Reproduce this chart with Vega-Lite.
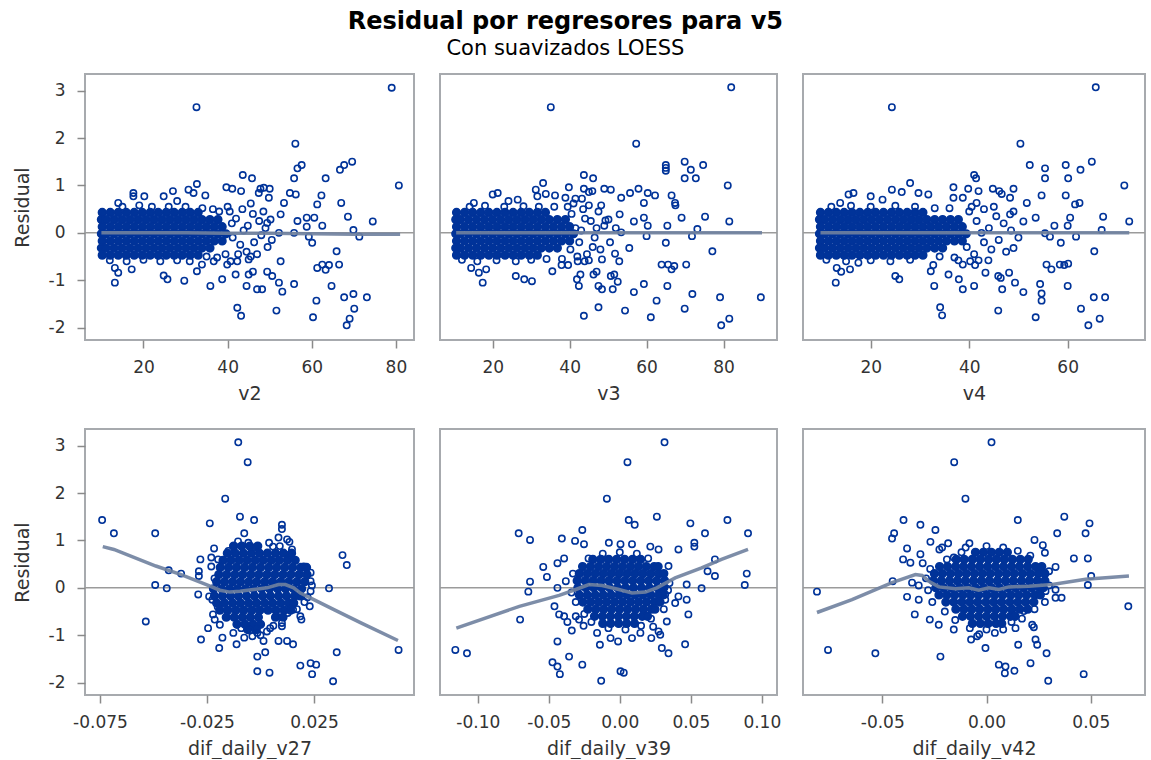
{
"$schema":"https://vega.github.io/schema/vega-lite/v6.json",
"autosize":{"type":"pad"},
"padding":{"left":12,"top":10,"right":0,"bottom":0},
"title":{"text":"Residual por regresores para v5","subtitle":"Con suavizados LOESS","font":"DejaVu Sans","fontSize":24,"fontWeight":"bold","color":"#000","subtitleFont":"DejaVu Sans","subtitleFontSize":21,"subtitleColor":"#000","subtitlePadding":4,"anchor":"middle","offset":14,"dx":-14},
"config":{
"font":"DejaVu Sans",
"view":{"stroke":"#a7aaae","strokeWidth":2},
"axis":{"domain":false,"grid":false,"ticks":true,"tickSize":8,"tickColor":"#8a8a8a","tickWidth":1.5,"labelFont":"DejaVu Sans","labelFontSize":17,"labelColor":"#333","titleFont":"DejaVu Sans","titleFontSize":19,"titleFontWeight":"normal","titleColor":"#333","labelFlush":false,"labelOverlap":false},
"axisX":{"labelPadding":11,"titlePadding":9},
"axisY":{"labelPadding":12,"titlePadding":16},
"locale":{"number":{"decimal":".","thousands":",","grouping":[3],"currency":["$",""],"minus":"-"}}
},
"datasets":{
"l1":[{"x":10,"y":0},{"x":20,"y":0},{"x":30,"y":0},{"x":40,"y":-0.01},{"x":50,"y":-0.01},{"x":60,"y":-0.02},{"x":70,"y":-0.03},{"x":81,"y":-0.03}],
"l2":[{"x":10.5,"y":0},{"x":30,"y":0},{"x":60,"y":0},{"x":90,"y":0}],
"l3":[{"x":9.8,"y":0},{"x":40,"y":0},{"x":72.5,"y":0}],
"l4":[{"x":-0.0737,"y":0.87},{"x":-0.0685,"y":0.81},{"x":-0.0489,"y":0.46},{"x":-0.0371,"y":0.28},{"x":-0.0253,"y":0.07},{"x":-0.019,"y":-0.05},{"x":-0.0143,"y":-0.09},{"x":-0.0096,"y":-0.07},{"x":-0.0033,"y":-0.035},{"x":0.003,"y":0},{"x":0.0084,"y":0.07},{"x":0.0116,"y":0.07},{"x":0.0155,"y":0},{"x":0.0186,"y":-0.11},{"x":0.0249,"y":-0.25},{"x":0.0343,"y":-0.46},{"x":0.0469,"y":-0.74},{"x":0.0642,"y":-1.11}],
"l5":[{"x":-0.1151,"y":-0.85},{"x":-0.0707,"y":-0.39},{"x":-0.0427,"y":-0.16},{"x":-0.031,"y":-0.035},{"x":-0.0217,"y":0.07},{"x":-0.0124,"y":0.05},{"x":-0.0007,"y":-0.035},{"x":0.0086,"y":-0.11},{"x":0.018,"y":-0.09},{"x":0.0261,"y":0},{"x":0.039,"y":0.21},{"x":0.0576,"y":0.42},{"x":0.0716,"y":0.6},{"x":0.0903,"y":0.81}],
"l6":[{"x":-0.0813,"y":-0.52},{"x":-0.0645,"y":-0.25},{"x":-0.0453,"y":0.11},{"x":-0.0341,"y":0.28},{"x":-0.0309,"y":0.26},{"x":-0.0277,"y":0.14},{"x":-0.0229,"y":0.02},{"x":-0.0149,"y":-0.02},{"x":-0.0085,"y":0},{"x":-0.0037,"y":-0.05},{"x":0.0011,"y":0},{"x":0.0059,"y":-0.035},{"x":0.0107,"y":0.02},{"x":0.0203,"y":0.035},{"x":0.0315,"y":0.07},{"x":0.0475,"y":0.18},{"x":0.0555,"y":0.21},{"x":0.0683,"y":0.25}],
"p1c":[
{"x":10.2,"y":0.43},{"x":12.1,"y":0.43},{"x":14.0,"y":0.43},{"x":15.9,"y":0.43},{"x":17.8,"y":0.43},{"x":19.7,"y":0.43},{"x":21.6,"y":0.43},{"x":23.5,"y":0.43},{"x":25.4,"y":0.43},{"x":27.3,"y":0.43},{"x":29.2,"y":0.43},{"x":31.1,"y":0.43},{"x":33.0,"y":0.43},
{"x":10.0,"y":0.28},{"x":11.1,"y":0.28},{"x":13.0,"y":0.28},{"x":14.9,"y":0.28},{"x":16.8,"y":0.28},{"x":18.7,"y":0.28},{"x":20.6,"y":0.28},{"x":22.5,"y":0.28},{"x":24.4,"y":0.28},{"x":26.3,"y":0.28},{"x":28.2,"y":0.28},{"x":30.1,"y":0.28},{"x":32.0,"y":0.28},{"x":33.9,"y":0.28},{"x":35.8,"y":0.28},{"x":37.7,"y":0.28},
{"x":10.2,"y":0.13},{"x":12.1,"y":0.13},{"x":14.0,"y":0.13},{"x":15.9,"y":0.13},{"x":17.8,"y":0.13},{"x":19.7,"y":0.13},{"x":21.6,"y":0.13},{"x":23.5,"y":0.13},{"x":25.4,"y":0.13},{"x":27.3,"y":0.13},{"x":29.2,"y":0.13},{"x":31.1,"y":0.13},{"x":33.0,"y":0.13},{"x":34.9,"y":0.13},{"x":36.8,"y":0.13},{"x":38.7,"y":0.13},
{"x":10.0,"y":-0.02},{"x":11.1,"y":-0.02},{"x":13.0,"y":-0.02},{"x":14.9,"y":-0.02},{"x":16.8,"y":-0.02},{"x":18.7,"y":-0.02},{"x":20.6,"y":-0.02},{"x":22.5,"y":-0.02},{"x":24.4,"y":-0.02},{"x":26.3,"y":-0.02},{"x":28.2,"y":-0.02},{"x":30.1,"y":-0.02},{"x":32.0,"y":-0.02},{"x":33.9,"y":-0.02},{"x":35.8,"y":-0.02},{"x":37.7,"y":-0.02},{"x":39.6,"y":-0.02},
{"x":10.2,"y":-0.17},{"x":12.1,"y":-0.17},{"x":14.0,"y":-0.17},{"x":15.9,"y":-0.17},{"x":17.8,"y":-0.17},{"x":19.7,"y":-0.17},{"x":21.6,"y":-0.17},{"x":23.5,"y":-0.17},{"x":25.4,"y":-0.17},{"x":27.3,"y":-0.17},{"x":29.2,"y":-0.17},{"x":31.1,"y":-0.17},{"x":33.0,"y":-0.17},{"x":34.9,"y":-0.17},{"x":36.8,"y":-0.17},{"x":38.7,"y":-0.17},
{"x":10.0,"y":-0.32},{"x":11.1,"y":-0.32},{"x":13.0,"y":-0.32},{"x":14.9,"y":-0.32},{"x":16.8,"y":-0.32},{"x":18.7,"y":-0.32},{"x":20.6,"y":-0.32},{"x":22.5,"y":-0.32},{"x":24.4,"y":-0.32},{"x":26.3,"y":-0.32},{"x":28.2,"y":-0.32},{"x":30.1,"y":-0.32},{"x":32.0,"y":-0.32},{"x":33.9,"y":-0.32},{"x":35.8,"y":-0.32},
{"x":10.2,"y":-0.47},{"x":12.1,"y":-0.47},{"x":14.0,"y":-0.47},{"x":15.9,"y":-0.47},{"x":17.8,"y":-0.47},{"x":19.7,"y":-0.47},{"x":21.6,"y":-0.47},{"x":23.5,"y":-0.47},{"x":25.4,"y":-0.47},{"x":27.3,"y":-0.47},{"x":29.2,"y":-0.47},{"x":31.1,"y":-0.47},{"x":33.0,"y":-0.47}],
"p1":[
{"x":79,"y":3.06},{"x":32.6,"y":2.65},{"x":56.1,"y":1.88},{"x":69.6,"y":1.5},{"x":67.7,"y":1.43},{"x":66.7,"y":1.33},{"x":57.6,"y":1.43},{"x":56.6,"y":1.36},{"x":55.8,"y":1.15},{"x":63.3,"y":1.15},{"x":80.7,"y":1.0},{"x":43.6,"y":1.22},{"x":45.8,"y":1.15},{"x":39.7,"y":0.96},{"x":41.1,"y":0.93},{"x":43.2,"y":0.88},{"x":32.7,"y":1.03},{"x":30.7,"y":0.91},{"x":27.0,"y":0.88},{"x":31.9,"y":0.84},{"x":34.7,"y":0.79},{"x":47.8,"y":0.93},{"x":48.6,"y":0.95},{"x":50.0,"y":0.93},{"x":47.4,"y":0.84},{"x":49.8,"y":0.74},{"x":53.4,"y":0.63},{"x":54.8,"y":0.84},{"x":56.2,"y":0.81},{"x":62.3,"y":0.79},{"x":61.3,"y":0.6},{"x":67.0,"y":0.63},{"x":68.6,"y":0.34},{"x":74.5,"y":0.24},{"x":58.8,"y":0.32},{"x":60.6,"y":0.32},{"x":56.6,"y":0.25},{"x":62.5,"y":0.15},{"x":58.8,"y":0.13},{"x":52.6,"y":0.39},{"x":50.2,"y":0.28},{"x":49.4,"y":0.21},{"x":69.9,"y":0.06},{"x":71.3,"y":-0.08},{"x":55.8,"y":0.0},{"x":52.2,"y":0.0},{"x":59.3,"y":-0.08},{"x":60.1,"y":-0.21},{"x":65.9,"y":-0.39},{"x":52.6,"y":-0.6},{"x":61.3,"y":-0.74},{"x":63.3,"y":-0.78},{"x":64.1,"y":-0.68},{"x":66.5,"y":-0.67},{"x":64.7,"y":-1.12},{"x":62.5,"y":-0.67},{"x":55.8,"y":-1.08},{"x":53.0,"y":-1.24},{"x":52.2,"y":-1.05},{"x":50.6,"y":-0.91},{"x":49.4,"y":-0.82},{"x":47.0,"y":-1.19},{"x":48.2,"y":-1.19},{"x":44.5,"y":-1.12},{"x":45.0,"y":-0.88},{"x":46.0,"y":-0.82},{"x":51.6,"y":-1.64},{"x":42.3,"y":-1.58},{"x":43.2,"y":-1.75},{"x":61.1,"y":-1.43},{"x":60.3,"y":-1.78},{"x":67.7,"y":-1.36},{"x":69.9,"y":-1.29},{"x":73.1,"y":-1.36},{"x":70.1,"y":-1.6},{"x":69.0,"y":-1.81},{"x":68.3,"y":-1.95},{"x":38.7,"y":-0.98},{"x":35.9,"y":-1.12},{"x":29.7,"y":-1.01},{"x":24.8,"y":-0.9},{"x":25.7,"y":-0.98},{"x":13.2,"y":-1.05},{"x":14.0,"y":-0.84},{"x":13.2,"y":-0.74},{"x":17.2,"y":-0.77},{"x":32.7,"y":-0.81},{"x":33.9,"y":-0.67},{"x":36.7,"y":-0.6},{"x":39.9,"y":-0.67},{"x":41.9,"y":-0.88},{"x":40.7,"y":-0.6},{"x":42.3,"y":-0.6},{"x":45.0,"y":-0.56},{"x":17.6,"y":0.84},{"x":17.6,"y":0.77},{"x":20.2,"y":0.77},{"x":24.8,"y":0.77},{"x":14.0,"y":0.63},{"x":28.0,"y":0.67},
{"x":40.5,"y":0.45},{"x":42,"y":0.3},{"x":43.5,"y":0.5},{"x":44.8,"y":0.15},{"x":46,"y":0.4},{"x":47.5,"y":0.25},{"x":41.2,"y":-0.1},{"x":43,"y":-0.25},{"x":44.5,"y":-0.4},{"x":46.3,"y":-0.2},{"x":48,"y":-0.05},{"x":49.5,"y":-0.3},{"x":41,"y":0.2},{"x":42.5,"y":-0.45},{"x":45.5,"y":-0.5},{"x":39.5,"y":-0.45},{"x":38,"y":0.45},{"x":40,"y":0.55},{"x":47,"y":-0.45},{"x":49,"y":0.1},{"x":43.8,"y":0.05},{"x":48.5,"y":0.45},{"x":36.5,"y":0.5},{"x":35,"y":-0.5},{"x":37.5,"y":-0.52},{"x":34,"y":0.52},{"x":15,"y":0.55},{"x":19,"y":0.58},{"x":22,"y":0.55},{"x":26,"y":0.55},{"x":30,"y":0.55},{"x":12,"y":-0.58},{"x":16,"y":-0.6},{"x":20,"y":-0.57},{"x":24,"y":-0.6},{"x":28,"y":-0.58},{"x":31,"y":-0.6},{"x":45.5,"y":0.62},{"x":50.5,"y":-0.15}],
"p2c":[
{"x":10.6,"y":0.43},{"x":12.7,"y":0.43},{"x":14.8,"y":0.43},{"x":16.9,"y":0.43},{"x":19.0,"y":0.43},{"x":21.1,"y":0.43},{"x":23.2,"y":0.43},{"x":25.3,"y":0.43},{"x":27.4,"y":0.43},{"x":29.5,"y":0.43},{"x":31.6,"y":0.43},{"x":33.7,"y":0.43},
{"x":10.4,"y":0.28},{"x":11.6,"y":0.28},{"x":13.7,"y":0.28},{"x":15.8,"y":0.28},{"x":17.9,"y":0.28},{"x":20.0,"y":0.28},{"x":22.1,"y":0.28},{"x":24.2,"y":0.28},{"x":26.3,"y":0.28},{"x":28.4,"y":0.28},{"x":30.5,"y":0.28},{"x":32.6,"y":0.28},{"x":34.7,"y":0.28},{"x":36.8,"y":0.28},{"x":38.9,"y":0.28},
{"x":10.6,"y":0.13},{"x":12.7,"y":0.13},{"x":14.8,"y":0.13},{"x":16.9,"y":0.13},{"x":19.0,"y":0.13},{"x":21.1,"y":0.13},{"x":23.2,"y":0.13},{"x":25.3,"y":0.13},{"x":27.4,"y":0.13},{"x":29.5,"y":0.13},{"x":31.6,"y":0.13},{"x":33.7,"y":0.13},{"x":35.8,"y":0.13},{"x":37.9,"y":0.13},{"x":40.0,"y":0.13},
{"x":10.4,"y":-0.02},{"x":11.6,"y":-0.02},{"x":13.7,"y":-0.02},{"x":15.8,"y":-0.02},{"x":17.9,"y":-0.02},{"x":20.0,"y":-0.02},{"x":22.1,"y":-0.02},{"x":24.2,"y":-0.02},{"x":26.3,"y":-0.02},{"x":28.4,"y":-0.02},{"x":30.5,"y":-0.02},{"x":32.6,"y":-0.02},{"x":34.7,"y":-0.02},{"x":36.8,"y":-0.02},{"x":38.9,"y":-0.02},{"x":41.0,"y":-0.02},
{"x":10.6,"y":-0.17},{"x":12.7,"y":-0.17},{"x":14.8,"y":-0.17},{"x":16.9,"y":-0.17},{"x":19.0,"y":-0.17},{"x":21.1,"y":-0.17},{"x":23.2,"y":-0.17},{"x":25.3,"y":-0.17},{"x":27.4,"y":-0.17},{"x":29.5,"y":-0.17},{"x":31.6,"y":-0.17},{"x":33.7,"y":-0.17},{"x":35.8,"y":-0.17},{"x":37.9,"y":-0.17},{"x":40.0,"y":-0.17},
{"x":10.4,"y":-0.32},{"x":11.6,"y":-0.32},{"x":13.7,"y":-0.32},{"x":15.8,"y":-0.32},{"x":17.9,"y":-0.32},{"x":20.0,"y":-0.32},{"x":22.1,"y":-0.32},{"x":24.2,"y":-0.32},{"x":26.3,"y":-0.32},{"x":28.4,"y":-0.32},{"x":30.5,"y":-0.32},{"x":32.6,"y":-0.32},{"x":34.7,"y":-0.32},{"x":36.8,"y":-0.32},
{"x":10.6,"y":-0.47},{"x":12.7,"y":-0.47},{"x":14.8,"y":-0.47},{"x":16.9,"y":-0.47},{"x":19.0,"y":-0.47},{"x":21.1,"y":-0.47},{"x":23.2,"y":-0.47},{"x":25.3,"y":-0.47},{"x":27.4,"y":-0.47},{"x":29.5,"y":-0.47},{"x":31.6,"y":-0.47}],
"p2":[
{"x":82.0,"y":3.07},{"x":35.1,"y":2.65},{"x":57.3,"y":1.88},{"x":65.0,"y":1.43},{"x":65.0,"y":1.37},{"x":65.0,"y":1.31},{"x":69.9,"y":1.5},{"x":71.5,"y":1.33},{"x":74.7,"y":1.43},{"x":69.9,"y":1.15},{"x":72.8,"y":1.15},{"x":81.1,"y":1.0},{"x":43.7,"y":1.22},{"x":46.1,"y":1.15},{"x":33.1,"y":1.05},{"x":39.8,"y":0.96},{"x":43.7,"y":0.93},{"x":45.9,"y":0.88},{"x":49.0,"y":0.93},{"x":50.7,"y":0.91},{"x":55.7,"y":0.84},{"x":57.9,"y":0.93},{"x":60.3,"y":0.84},{"x":62.2,"y":0.79},{"x":66.5,"y":0.79},{"x":67.4,"y":0.63},{"x":67.5,"y":0.58},{"x":59.3,"y":0.63},{"x":53.4,"y":0.74},{"x":69.1,"y":0.32},{"x":75.2,"y":0.34},{"x":81.5,"y":0.24},{"x":56.7,"y":0.24},{"x":59.3,"y":0.32},{"x":53.0,"y":0.39},{"x":50.1,"y":0.28},{"x":60.3,"y":0.15},{"x":65.4,"y":0.15},{"x":73.2,"y":0.08},{"x":71.8,"y":-0.07},{"x":60.0,"y":-0.07},{"x":53.4,"y":0.01},{"x":65.0,"y":-0.21},{"x":55.5,"y":-0.32},{"x":77.1,"y":-0.39},{"x":51.8,"y":-0.44},{"x":52.9,"y":-0.6},{"x":48.4,"y":-0.56},{"x":63.9,"y":-0.67},{"x":65.6,"y":-0.67},{"x":67.2,"y":-0.7},{"x":66.5,"y":-0.77},{"x":70.3,"y":-0.67},{"x":65.4,"y":-1.12},{"x":59.3,"y":-1.08},{"x":56.7,"y":-1.25},{"x":62.6,"y":-1.43},{"x":71.9,"y":-1.29},{"x":79.1,"y":-1.36},{"x":89.7,"y":-1.36},{"x":69.9,"y":-1.6},{"x":54.4,"y":-1.64},{"x":61.1,"y":-1.78},{"x":47.5,"y":-1.57},{"x":43.7,"y":-1.75},{"x":81.5,"y":-1.81},{"x":79.4,"y":-1.95},{"x":42.4,"y":-1.12},{"x":47.5,"y":-1.12},{"x":48.4,"y":-1.19},{"x":51.2,"y":-1.19},{"x":50.7,"y":-0.91},{"x":51.6,"y":-0.88},{"x":52.5,"y":-1.03},{"x":46.2,"y":-0.88},{"x":47.0,"y":-0.82},{"x":41.9,"y":-0.98},{"x":42.8,"y":-0.88},{"x":43.9,"y":-0.6},{"x":45.0,"y":-0.58},{"x":42.1,"y":-0.6},{"x":39.6,"y":-0.68},{"x":37.9,"y":-0.68},{"x":35.5,"y":-0.81},{"x":26.0,"y":-0.91},{"x":28.2,"y":-0.98},{"x":30.2,"y":-1.02},{"x":17.4,"y":-1.05},{"x":16.4,"y":-0.84},{"x":18.3,"y":-0.77},{"x":14.4,"y":-0.74},{"x":20.0,"y":0.81},{"x":21.3,"y":0.84},{"x":24.1,"y":0.67},{"x":26.5,"y":0.7},{"x":15.1,"y":0.63},{"x":31.2,"y":0.91},{"x":31.6,"y":0.77},{"x":33.8,"y":0.82},{"x":36.2,"y":0.79},{"x":38.9,"y":0.74},{"x":41.5,"y":0.72},{"x":43.2,"y":0.72},{"x":48.2,"y":0.58},{"x":49.3,"y":0.26},{"x":45.0,"y":0.86},
{"x":40.5,"y":0.4},{"x":41.5,"y":0.1},{"x":42.5,"y":-0.2},{"x":43.5,"y":0.5},{"x":44.5,"y":-0.45},{"x":45.5,"y":0.25},{"x":46.5,"y":-0.1},{"x":47.5,"y":0.45},{"x":48,"y":-0.35},{"x":49,"y":0.15},{"x":42,"y":-0.5},{"x":44,"y":0.3},{"x":46,"y":-0.3},{"x":40.2,"y":-0.35},{"x":43,"y":0.05},{"x":47,"y":0.1},{"x":39.5,"y":0.55},{"x":38,"y":-0.55},{"x":36,"y":0.55},{"x":34,"y":-0.55},{"x":50.5,"y":-0.2},{"x":52,"y":0.1},{"x":41,"y":0.62},{"x":45,"y":0.58},{"x":14,"y":0.55},{"x":18,"y":0.57},{"x":23,"y":0.55},{"x":28,"y":0.56},{"x":32,"y":0.55},{"x":12,"y":-0.57},{"x":16,"y":-0.6},{"x":21,"y":-0.58},{"x":26,"y":-0.6},{"x":30,"y":-0.57}],
"p3c":[
{"x":9.8,"y":0.43},{"x":11.4,"y":0.43},{"x":13.0,"y":0.43},{"x":14.6,"y":0.43},{"x":16.2,"y":0.43},{"x":17.8,"y":0.43},{"x":19.4,"y":0.43},{"x":21.0,"y":0.43},{"x":22.6,"y":0.43},{"x":24.2,"y":0.43},{"x":25.8,"y":0.43},{"x":27.4,"y":0.43},{"x":29.0,"y":0.43},{"x":30.6,"y":0.43},
{"x":9.6,"y":0.28},{"x":10.6,"y":0.28},{"x":12.2,"y":0.28},{"x":13.8,"y":0.28},{"x":15.4,"y":0.28},{"x":17.0,"y":0.28},{"x":18.6,"y":0.28},{"x":20.2,"y":0.28},{"x":21.8,"y":0.28},{"x":23.4,"y":0.28},{"x":25.0,"y":0.28},{"x":26.6,"y":0.28},{"x":28.2,"y":0.28},{"x":29.8,"y":0.28},{"x":31.4,"y":0.28},{"x":33.0,"y":0.28},{"x":34.6,"y":0.28},{"x":36.2,"y":0.28},{"x":37.8,"y":0.28},
{"x":9.8,"y":0.13},{"x":11.4,"y":0.13},{"x":13.0,"y":0.13},{"x":14.6,"y":0.13},{"x":16.2,"y":0.13},{"x":17.8,"y":0.13},{"x":19.4,"y":0.13},{"x":21.0,"y":0.13},{"x":22.6,"y":0.13},{"x":24.2,"y":0.13},{"x":25.8,"y":0.13},{"x":27.4,"y":0.13},{"x":29.0,"y":0.13},{"x":30.6,"y":0.13},{"x":32.2,"y":0.13},{"x":33.8,"y":0.13},{"x":35.4,"y":0.13},{"x":37.0,"y":0.13},{"x":38.6,"y":0.13},
{"x":9.6,"y":-0.02},{"x":10.6,"y":-0.02},{"x":12.2,"y":-0.02},{"x":13.8,"y":-0.02},{"x":15.4,"y":-0.02},{"x":17.0,"y":-0.02},{"x":18.6,"y":-0.02},{"x":20.2,"y":-0.02},{"x":21.8,"y":-0.02},{"x":23.4,"y":-0.02},{"x":25.0,"y":-0.02},{"x":26.6,"y":-0.02},{"x":28.2,"y":-0.02},{"x":29.8,"y":-0.02},{"x":31.4,"y":-0.02},{"x":33.0,"y":-0.02},{"x":34.6,"y":-0.02},{"x":36.2,"y":-0.02},{"x":37.8,"y":-0.02},{"x":39.4,"y":-0.02},
{"x":9.8,"y":-0.17},{"x":11.4,"y":-0.17},{"x":13.0,"y":-0.17},{"x":14.6,"y":-0.17},{"x":16.2,"y":-0.17},{"x":17.8,"y":-0.17},{"x":19.4,"y":-0.17},{"x":21.0,"y":-0.17},{"x":22.6,"y":-0.17},{"x":24.2,"y":-0.17},{"x":25.8,"y":-0.17},{"x":27.4,"y":-0.17},{"x":29.0,"y":-0.17},{"x":30.6,"y":-0.17},{"x":32.2,"y":-0.17},{"x":33.8,"y":-0.17},{"x":35.4,"y":-0.17},{"x":37.0,"y":-0.17},{"x":38.6,"y":-0.17},
{"x":9.6,"y":-0.32},{"x":10.6,"y":-0.32},{"x":12.2,"y":-0.32},{"x":13.8,"y":-0.32},{"x":15.4,"y":-0.32},{"x":17.0,"y":-0.32},{"x":18.6,"y":-0.32},{"x":20.2,"y":-0.32},{"x":21.8,"y":-0.32},{"x":23.4,"y":-0.32},{"x":25.0,"y":-0.32},{"x":26.6,"y":-0.32},{"x":28.2,"y":-0.32},{"x":29.8,"y":-0.32},{"x":31.4,"y":-0.32},{"x":33.0,"y":-0.32},{"x":34.6,"y":-0.32},
{"x":9.8,"y":-0.47},{"x":11.4,"y":-0.47},{"x":13.0,"y":-0.47},{"x":14.6,"y":-0.47},{"x":16.2,"y":-0.47},{"x":17.8,"y":-0.47},{"x":19.4,"y":-0.47},{"x":21.0,"y":-0.47},{"x":22.6,"y":-0.47},{"x":24.2,"y":-0.47},{"x":25.8,"y":-0.47},{"x":27.4,"y":-0.47},{"x":29.0,"y":-0.47},{"x":30.6,"y":-0.47}],
"p3":[
{"x":65.7,"y":3.07},{"x":24.3,"y":2.65},{"x":50.4,"y":1.88},{"x":64.9,"y":1.5},{"x":52.3,"y":1.43},{"x":55.4,"y":1.36},{"x":55.4,"y":1.15},{"x":59.6,"y":1.43},{"x":60.1,"y":1.15},{"x":62.6,"y":1.33},{"x":71.5,"y":1.0},{"x":41.0,"y":1.22},{"x":41.4,"y":1.15},{"x":36.8,"y":0.96},{"x":39.8,"y":0.93},{"x":41.9,"y":0.88},{"x":44.8,"y":0.93},{"x":46.1,"y":0.88},{"x":46.6,"y":0.82},{"x":49.0,"y":0.93},{"x":48.3,"y":0.74},{"x":54.7,"y":0.79},{"x":59.6,"y":0.79},{"x":51.7,"y":0.63},{"x":61.5,"y":0.6},{"x":62.4,"y":0.63},{"x":48.3,"y":0.39},{"x":53.5,"y":0.32},{"x":51.0,"y":0.24},{"x":57.3,"y":0.15},{"x":60.0,"y":0.15},{"x":60.5,"y":0.32},{"x":67.2,"y":0.34},{"x":72.5,"y":0.24},{"x":66.9,"y":0.06},{"x":61.7,"y":-0.08},{"x":55.4,"y":-0.01},{"x":56.4,"y":-0.08},{"x":58.6,"y":-0.21},{"x":49.0,"y":-0.32},{"x":65.4,"y":-0.39},{"x":55.7,"y":-0.67},{"x":56.7,"y":-0.77},{"x":58.4,"y":-0.67},{"x":59.3,"y":-0.68},{"x":60.1,"y":-0.65},{"x":60.0,"y":-1.12},{"x":54.4,"y":-1.08},{"x":54.7,"y":-1.28},{"x":54.7,"y":-1.43},{"x":51.0,"y":-1.25},{"x":49.3,"y":-1.05},{"x":46.7,"y":-1.19},{"x":45.9,"y":-0.91},{"x":46.4,"y":-0.95},{"x":48.1,"y":-0.84},{"x":43.3,"y":-0.84},{"x":41.0,"y":-1.12},{"x":38.7,"y":-1.19},{"x":37.9,"y":-0.98},{"x":35.8,"y":-0.88},{"x":32.9,"y":-1.12},{"x":34.1,"y":-1.57},{"x":34.5,"y":-1.74},{"x":45.9,"y":-1.64},{"x":53.5,"y":-1.78},{"x":62.7,"y":-1.6},{"x":65.3,"y":-1.36},{"x":67.6,"y":-1.36},{"x":66.5,"y":-1.81},{"x":64.2,"y":-1.95},{"x":25.0,"y":-0.91},{"x":25.8,"y":-0.98},{"x":12.9,"y":-1.05},{"x":13.1,"y":-0.74},{"x":14.0,"y":-0.82},{"x":15.8,"y":-0.77},{"x":17.5,"y":-0.63},{"x":40.2,"y":-0.6},{"x":41.2,"y":-0.68},{"x":41.9,"y":-0.58},{"x":43.9,"y":-0.58},{"x":37.8,"y":-0.58},{"x":38.7,"y":-0.67},{"x":32.2,"y":-0.81},{"x":32.7,"y":-0.68},{"x":15.5,"y":0.81},{"x":16.5,"y":0.84},{"x":20.0,"y":0.77},{"x":24.3,"y":0.91},{"x":26.3,"y":0.86},{"x":28.0,"y":1.05},{"x":29.7,"y":0.84},{"x":31.7,"y":0.81},{"x":22.4,"y":0.7},{"x":13.8,"y":0.63},{"x":36.8,"y":0.74},{"x":38.7,"y":0.74},{"x":41.5,"y":0.63},
{"x":40,"y":0.45},{"x":41.5,"y":0.25},{"x":43,"y":0.5},{"x":44,"y":0.1},{"x":45.5,"y":0.35},{"x":47,"y":0.2},{"x":46,"y":-0.15},{"x":44.5,"y":-0.35},{"x":43,"y":-0.2},{"x":41,"y":-0.45},{"x":47.5,"y":-0.4},{"x":48.5,"y":0.05},{"x":42.5,"y":0.0},{"x":39.5,"y":-0.3},{"x":40.5,"y":0.55},{"x":45,"y":0.55},{"x":36,"y":0.52},{"x":34,"y":-0.5},{"x":37,"y":-0.52},{"x":33,"y":0.52},{"x":12,"y":0.55},{"x":16,"y":0.57},{"x":20,"y":0.55},{"x":25,"y":0.57},{"x":29,"y":0.55},{"x":11,"y":-0.57},{"x":15,"y":-0.6},{"x":20,"y":-0.58},{"x":24,"y":-0.6},{"x":28,"y":-0.57},{"x":50,"y":-0.1},{"x":49,"y":0.45}],
"p4c":[
{"x":-0.0125,"y":0.88},{"x":-0.0088,"y":0.88},{"x":-0.005,"y":0.88},{"x":-0.0013,"y":0.88},
{"x":-0.0155,"y":0.73},{"x":-0.0118,"y":0.73},{"x":-0.008,"y":0.73},{"x":-0.0043,"y":0.73},{"x":-0.0005,"y":0.73},{"x":0.0032,"y":0.73},{"x":0.007,"y":0.73},{"x":0.0107,"y":0.73},{"x":0.0145,"y":0.73},
{"x":-0.0175,"y":0.58},{"x":-0.0138,"y":0.58},{"x":-0.01,"y":0.58},{"x":-0.0063,"y":0.58},{"x":-0.0025,"y":0.58},{"x":0.0012,"y":0.58},{"x":0.005,"y":0.58},{"x":0.0087,"y":0.58},{"x":0.0125,"y":0.58},{"x":0.0162,"y":0.58},
{"x":-0.0188,"y":0.43},{"x":-0.015,"y":0.43},{"x":-0.0113,"y":0.43},{"x":-0.0075,"y":0.43},{"x":-0.0038,"y":0.43},{"x":0,"y":0.43},{"x":0.0038,"y":0.43},{"x":0.0075,"y":0.43},{"x":0.0113,"y":0.43},{"x":0.015,"y":0.43},{"x":0.0188,"y":0.43},{"x":0.0215,"y":0.43},
{"x":-0.0195,"y":0.28},{"x":-0.0158,"y":0.28},{"x":-0.012,"y":0.28},{"x":-0.0083,"y":0.28},{"x":-0.0045,"y":0.28},{"x":-0.0008,"y":0.28},{"x":0.003,"y":0.28},{"x":0.0067,"y":0.28},{"x":0.0105,"y":0.28},{"x":0.0142,"y":0.28},{"x":0.018,"y":0.28},{"x":0.0217,"y":0.28},
{"x":-0.0205,"y":0.13},{"x":-0.0168,"y":0.13},{"x":-0.013,"y":0.13},{"x":-0.0093,"y":0.13},{"x":-0.0055,"y":0.13},{"x":-0.0018,"y":0.13},{"x":0.002,"y":0.13},{"x":0.0057,"y":0.13},{"x":0.0095,"y":0.13},{"x":0.0132,"y":0.13},{"x":0.017,"y":0.13},{"x":0.0207,"y":0.13},
{"x":-0.022,"y":-0.02},{"x":-0.0183,"y":-0.02},{"x":-0.0145,"y":-0.02},{"x":-0.0108,"y":-0.02},{"x":-0.007,"y":-0.02},{"x":-0.0033,"y":-0.02},{"x":0.0005,"y":-0.02},{"x":0.0042,"y":-0.02},{"x":0.008,"y":-0.02},{"x":0.0117,"y":-0.02},{"x":0.0155,"y":-0.02},{"x":0.0192,"y":-0.02},
{"x":-0.0215,"y":-0.17},{"x":-0.0178,"y":-0.17},{"x":-0.014,"y":-0.17},{"x":-0.0103,"y":-0.17},{"x":-0.0065,"y":-0.17},{"x":-0.0028,"y":-0.17},{"x":0.001,"y":-0.17},{"x":0.0047,"y":-0.17},{"x":0.0085,"y":-0.17},{"x":0.0122,"y":-0.17},{"x":0.016,"y":-0.17},{"x":0.0185,"y":-0.17},
{"x":-0.0205,"y":-0.32},{"x":-0.0168,"y":-0.32},{"x":-0.013,"y":-0.32},{"x":-0.0093,"y":-0.32},{"x":-0.0055,"y":-0.32},{"x":-0.0018,"y":-0.32},{"x":0.002,"y":-0.32},{"x":0.0057,"y":-0.32},{"x":0.0095,"y":-0.32},{"x":0.0132,"y":-0.32},{"x":0.0155,"y":-0.32},
{"x":-0.019,"y":-0.47},{"x":-0.0153,"y":-0.47},{"x":-0.0115,"y":-0.47},{"x":-0.0078,"y":-0.47},{"x":-0.004,"y":-0.47},{"x":-0.0003,"y":-0.47},{"x":0.0035,"y":-0.47},{"x":0.0072,"y":-0.47},{"x":0.011,"y":-0.47},{"x":0.014,"y":-0.47},
{"x":-0.016,"y":-0.62},{"x":-0.0123,"y":-0.62},{"x":-0.0085,"y":-0.62},{"x":-0.0048,"y":-0.62},{"x":-0.001,"y":-0.62},{"x":0.007,"y":-0.62},{"x":0.0105,"y":-0.62},
{"x":-0.011,"y":-0.77},{"x":-0.0073,"y":-0.77},{"x":-0.0035,"y":-0.77},{"x":0,"y":-0.77},
{"x":-0.006,"y":-0.88},{"x":-0.002,"y":-0.88}],
"p4":[
{"x":-0.0104,"y":3.07},{"x":-0.006,"y":2.65},{"x":-0.0165,"y":1.88},{"x":-0.0096,"y":1.5},{"x":-0.003,"y":1.43},{"x":-0.0237,"y":1.36},{"x":0.01,"y":1.33},{"x":0.01,"y":1.24},{"x":-0.074,"y":1.43},{"x":-0.0685,"y":1.15},{"x":-0.0492,"y":1.15},{"x":-0.0076,"y":1.15},{"x":-0.0217,"y":0.83},{"x":-0.0281,"y":0.6},{"x":-0.023,"y":0.64},{"x":-0.0198,"y":0.6},{"x":-0.0288,"y":0.35},{"x":-0.0288,"y":0.25},{"x":-0.0429,"y":0.37},{"x":-0.0371,"y":0.3},{"x":-0.0492,"y":0.06},{"x":-0.0438,"y":-0.01},{"x":-0.0536,"y":-0.71},{"x":-0.0291,"y":-0.14},{"x":-0.024,"y":-0.18},{"x":-0.0225,"y":-0.25},{"x":0.0383,"y":0.69},{"x":0.0403,"y":0.48},{"x":0.032,"y":-0.01},{"x":0.0234,"y":-0.07},{"x":0.023,"y":-0.39},{"x":0.0186,"y":-0.6},{"x":0.0191,"y":-0.67},{"x":0.0645,"y":-1.31},{"x":0.0356,"y":-1.36},{"x":0.0339,"y":-1.97},{"x":0.0241,"y":-1.82},{"x":0.0234,"y":-1.59},{"x":0.026,"y":-1.62},{"x":0.0186,"y":-1.64},{"x":0.0042,"y":-1.79},{"x":-0.0015,"y":-1.76},{"x":-0.0015,"y":-1.45},{"x":0.0022,"y":-1.36},{"x":0.0152,"y":-1.19},{"x":0.0124,"y":-1.12},{"x":0.0084,"y":-1.12},{"x":0.0014,"y":-1.12},{"x":-0.0076,"y":-1.05},{"x":-0.0112,"y":-1.19},{"x":-0.0038,"y":-1.02},{"x":-0.0127,"y":-0.95},{"x":-0.0178,"y":-1.05},{"x":-0.0193,"y":-1.27},{"x":-0.0278,"y":-1.09},{"x":-0.0245,"y":-0.85},{"x":-0.0222,"y":-0.56},{"x":-0.0214,"y":-0.67},{"x":-0.019,"y":-0.78},{"x":0.003,"y":-0.92},{"x":0.0045,"y":-0.85},{"x":0.006,"y":-0.8},{"x":0.01,"y":-0.81},{"x":0.01,"y":-0.74},{"x":0.0127,"y":-0.53},{"x":0.0152,"y":-0.46},{"x":0.0202,"y":0.39},{"x":0.0202,"y":0.45},{"x":0.0234,"y":0.32},{"x":0.0234,"y":0.14},{"x":0.0139,"y":0.71},{"x":0.0147,"y":0.81},{"x":0.0124,"y":1.02},{"x":0.0135,"y":0.97},{"x":0.0084,"y":1.06},{"x":0.0058,"y":0.87},{"x":-0.0128,"y":0.88},{"x":-0.0057,"y":0.95},{"x":-0.0018,"y":0.85},
{"x":-0.0015,"y":-0.95},{"x":-0.005,"y":-0.9},{"x":-0.009,"y":-0.85},{"x":0,"y":-1.0},{"x":-0.02,"y":-0.4},{"x":-0.0215,"y":0.2},{"x":-0.023,"y":0.45},{"x":0.022,"y":-0.2},{"x":0.024,"y":0.05},{"x":0.0205,"y":-0.3},{"x":0.017,"y":-0.45},{"x":0.0075,"y":-0.6},{"x":0.009,"y":0.88},{"x":0.004,"y":0.95},{"x":-0.015,"y":0.78},{"x":-0.0105,"y":0.98}],
"p5c":[
{"x":-0.019,"y":0.6},{"x":-0.0134,"y":0.6},{"x":-0.0078,"y":0.6},{"x":-0.0022,"y":0.6},{"x":0.0034,"y":0.6},{"x":0.009,"y":0.6},{"x":0.0146,"y":0.6},
{"x":-0.0262,"y":0.45},{"x":-0.0206,"y":0.45},{"x":-0.015,"y":0.45},{"x":-0.0094,"y":0.45},{"x":-0.0038,"y":0.45},{"x":0.0018,"y":0.45},{"x":0.0074,"y":0.45},{"x":0.013,"y":0.45},{"x":0.0186,"y":0.45},{"x":0.0242,"y":0.45},{"x":0.027,"y":0.45},
{"x":-0.0285,"y":0.3},{"x":-0.0229,"y":0.3},{"x":-0.0173,"y":0.3},{"x":-0.0117,"y":0.3},{"x":-0.0061,"y":0.3},{"x":-0.0005,"y":0.3},{"x":0.0051,"y":0.3},{"x":0.0107,"y":0.3},{"x":0.0163,"y":0.3},{"x":0.0219,"y":0.3},{"x":0.0275,"y":0.3},{"x":0.031,"y":0.3},
{"x":-0.03,"y":0.15},{"x":-0.0244,"y":0.15},{"x":-0.0188,"y":0.15},{"x":-0.0132,"y":0.15},{"x":-0.0076,"y":0.15},{"x":-0.002,"y":0.15},{"x":0.0036,"y":0.15},{"x":0.0092,"y":0.15},{"x":0.0148,"y":0.15},{"x":0.0204,"y":0.15},{"x":0.026,"y":0.15},{"x":0.0316,"y":0.15},
{"x":-0.0295,"y":0},{"x":-0.0239,"y":0},{"x":-0.0183,"y":0},{"x":-0.0127,"y":0},{"x":-0.0071,"y":0},{"x":-0.0015,"y":0},{"x":0.0041,"y":0},{"x":0.0097,"y":0},{"x":0.0153,"y":0},{"x":0.0209,"y":0},{"x":0.0265,"y":0},{"x":0.031,"y":0},
{"x":-0.0285,"y":-0.15},{"x":-0.0229,"y":-0.15},{"x":-0.0173,"y":-0.15},{"x":-0.0117,"y":-0.15},{"x":-0.0061,"y":-0.15},{"x":-0.0005,"y":-0.15},{"x":0.0051,"y":-0.15},{"x":0.0107,"y":-0.15},{"x":0.0163,"y":-0.15},{"x":0.0219,"y":-0.15},{"x":0.0275,"y":-0.15},{"x":0.0305,"y":-0.15},
{"x":-0.026,"y":-0.3},{"x":-0.0204,"y":-0.3},{"x":-0.0148,"y":-0.3},{"x":-0.0092,"y":-0.3},{"x":-0.0036,"y":-0.3},{"x":0.002,"y":-0.3},{"x":0.0076,"y":-0.3},{"x":0.0132,"y":-0.3},{"x":0.0188,"y":-0.3},{"x":0.0244,"y":-0.3},{"x":0.0283,"y":-0.3},
{"x":-0.0225,"y":-0.45},{"x":-0.0169,"y":-0.45},{"x":-0.0113,"y":-0.45},{"x":-0.0057,"y":-0.45},{"x":-0.0001,"y":-0.45},{"x":0.0055,"y":-0.45},{"x":0.0111,"y":-0.45},{"x":0.0167,"y":-0.45},{"x":0.0223,"y":-0.45},{"x":0.0248,"y":-0.45},
{"x":-0.0178,"y":-0.6},{"x":-0.0122,"y":-0.6},{"x":-0.0066,"y":-0.6},{"x":-0.001,"y":-0.6},{"x":0.0046,"y":-0.6},{"x":0.0102,"y":-0.6},{"x":0.0158,"y":-0.6},{"x":0.0195,"y":-0.6},
{"x":-0.012,"y":-0.75},{"x":-0.0064,"y":-0.75},{"x":-0.0008,"y":-0.75},{"x":0.0048,"y":-0.75},{"x":0.0104,"y":-0.75}],
"p5":[
{"x":0.0315,"y":3.07},{"x":0.0054,"y":2.65},{"x":-0.0091,"y":1.88},{"x":0.0063,"y":1.43},{"x":0.0105,"y":1.33},{"x":0.0261,"y":1.5},{"x":0.0497,"y":1.36},{"x":0.0758,"y":1.43},{"x":0.06,"y":1.15},{"x":0.0903,"y":1.15},{"x":-0.0712,"y":1.15},{"x":-0.0632,"y":1.01},{"x":-0.0408,"y":1.04},{"x":-0.0264,"y":1.22},{"x":-0.0315,"y":0.99},{"x":-0.0252,"y":0.92},{"x":0.0525,"y":0.95},{"x":0.0525,"y":0.87},{"x":0.0413,"y":0.81},{"x":0.067,"y":0.6},{"x":0.0618,"y":0.35},{"x":0.067,"y":0.25},{"x":0.0894,"y":0.3},{"x":0.088,"y":0.06},{"x":0.0576,"y":-0.01},{"x":0.0471,"y":0.07},{"x":0.0471,"y":-0.25},{"x":0.0483,"y":-0.56},{"x":0.046,"y":-1.19},{"x":0.0343,"y":-1.38},{"x":0.0296,"y":-1.27},{"x":0.0273,"y":-0.92},{"x":0.0285,"y":-0.99},{"x":0.0222,"y":-1.06},{"x":0.0086,"y":-1.06},{"x":0.0005,"y":-1.76},{"x":0.0028,"y":-1.79},{"x":-0.0131,"y":-1.96},{"x":-0.014,"y":-1.2},{"x":-0.0065,"y":-1.06},{"x":-0.0012,"y":-1.13},{"x":-0.0264,"y":-1.62},{"x":-0.0357,"y":-1.45},{"x":-0.0474,"y":-1.57},{"x":-0.0439,"y":-1.66},{"x":-0.0422,"y":-1.82},{"x":-0.0439,"y":-1.13},{"x":-0.0338,"y":-0.9},{"x":-0.0369,"y":-0.72},{"x":-0.0392,"y":-0.6},{"x":-0.0427,"y":-0.56},{"x":-0.046,"y":-0.39},{"x":-0.0702,"y":-0.67},{"x":-0.1158,"y":-1.31},{"x":-0.1076,"y":-1.38},{"x":-0.0644,"y":-0.08},{"x":-0.0632,"y":0.13},{"x":-0.0539,"y":0.44},{"x":-0.0513,"y":0.23},{"x":-0.0439,"y":0.52},{"x":-0.0392,"y":0.62},{"x":-0.0439,"y":0.0},{"x":-0.038,"y":0.14},{"x":-0.031,"y":-0.6},{"x":-0.0287,"y":-0.67},{"x":-0.0077,"y":0.95},{"x":0.0005,"y":0.92},{"x":0.0086,"y":0.92},{"x":0.0215,"y":0.87},{"x":0.0273,"y":0.81},{"x":0.0343,"y":0.46},{"x":0.032,"y":-0.14},{"x":0.032,"y":-0.25},{"x":0.0413,"y":-0.18},{"x":0.039,"y":-0.32},{"x":0.0331,"y":-0.71},
{"x":-0.012,"y":0.72},{"x":0.0,"y":0.75},{"x":0.012,"y":0.72},{"x":-0.022,"y":0.62},{"x":0.02,"y":0.62},{"x":-0.033,"y":0.3},{"x":0.035,"y":0.1},{"x":-0.034,"y":-0.1},{"x":0.034,"y":-0.05},{"x":-0.031,"y":-0.3},{"x":0.031,"y":-0.45},{"x":-0.025,"y":-0.55},{"x":-0.02,"y":-0.72},{"x":0.022,"y":-0.65},{"x":0.015,"y":-0.8},{"x":-0.008,"y":-0.85},{"x":0.004,"y":-0.88},{"x":-0.016,"y":-0.95},{"x":0.0145,"y":-0.95},{"x":0.0235,"y":-0.82},{"x":-0.0255,"y":-0.8}],
"p6c":[
{"x":-0.0053,"y":0.75},{"x":-0.0015,"y":0.75},{"x":0.0023,"y":0.75},{"x":0.0061,"y":0.75},{"x":0.01,"y":0.75},
{"x":-0.0145,"y":0.6},{"x":-0.0107,"y":0.6},{"x":-0.0068,"y":0.6},{"x":-0.003,"y":0.6},{"x":0.0009,"y":0.6},{"x":0.0047,"y":0.6},{"x":0.0085,"y":0.6},{"x":0.0124,"y":0.6},{"x":0.0162,"y":0.6},{"x":0.02,"y":0.6},
{"x":-0.0225,"y":0.45},{"x":-0.0187,"y":0.45},{"x":-0.0148,"y":0.45},{"x":-0.011,"y":0.45},{"x":-0.0072,"y":0.45},{"x":-0.0033,"y":0.45},{"x":0.0005,"y":0.45},{"x":0.0043,"y":0.45},{"x":0.0082,"y":0.45},{"x":0.012,"y":0.45},{"x":0.0158,"y":0.45},{"x":0.0197,"y":0.45},{"x":0.0235,"y":0.45},{"x":0.0265,"y":0.45},
{"x":-0.025,"y":0.3},{"x":-0.0212,"y":0.3},{"x":-0.0173,"y":0.3},{"x":-0.0135,"y":0.3},{"x":-0.0097,"y":0.3},{"x":-0.0058,"y":0.3},{"x":-0.002,"y":0.3},{"x":0.0018,"y":0.3},{"x":0.0057,"y":0.3},{"x":0.0095,"y":0.3},{"x":0.0133,"y":0.3},{"x":0.0172,"y":0.3},{"x":0.021,"y":0.3},{"x":0.0248,"y":0.3},{"x":0.028,"y":0.3},
{"x":-0.0255,"y":0.15},{"x":-0.0217,"y":0.15},{"x":-0.0178,"y":0.15},{"x":-0.014,"y":0.15},{"x":-0.0102,"y":0.15},{"x":-0.0063,"y":0.15},{"x":-0.0025,"y":0.15},{"x":0.0013,"y":0.15},{"x":0.0052,"y":0.15},{"x":0.009,"y":0.15},{"x":0.0128,"y":0.15},{"x":0.0167,"y":0.15},{"x":0.0205,"y":0.15},{"x":0.0243,"y":0.15},{"x":0.028,"y":0.15},
{"x":-0.0243,"y":0},{"x":-0.0205,"y":0},{"x":-0.0167,"y":0},{"x":-0.0128,"y":0},{"x":-0.009,"y":0},{"x":-0.0052,"y":0},{"x":-0.0013,"y":0},{"x":0.0025,"y":0},{"x":0.0063,"y":0},{"x":0.0102,"y":0},{"x":0.014,"y":0},{"x":0.0178,"y":0},{"x":0.0217,"y":0},{"x":0.0255,"y":0},{"x":0.0272,"y":0},
{"x":-0.0228,"y":-0.15},{"x":-0.019,"y":-0.15},{"x":-0.0152,"y":-0.15},{"x":-0.0113,"y":-0.15},{"x":-0.0075,"y":-0.15},{"x":-0.0037,"y":-0.15},{"x":0.0002,"y":-0.15},{"x":0.004,"y":-0.15},{"x":0.0078,"y":-0.15},{"x":0.0117,"y":-0.15},{"x":0.0155,"y":-0.15},{"x":0.0193,"y":-0.15},{"x":0.0232,"y":-0.15},{"x":0.0258,"y":-0.15},
{"x":-0.0195,"y":-0.3},{"x":-0.0157,"y":-0.3},{"x":-0.0118,"y":-0.3},{"x":-0.008,"y":-0.3},{"x":-0.0042,"y":-0.3},{"x":-0.0003,"y":-0.3},{"x":0.0035,"y":-0.3},{"x":0.0073,"y":-0.3},{"x":0.0112,"y":-0.3},{"x":0.015,"y":-0.3},{"x":0.0188,"y":-0.3},{"x":0.0227,"y":-0.3},
{"x":-0.0147,"y":-0.45},{"x":-0.0108,"y":-0.45},{"x":-0.007,"y":-0.45},{"x":-0.0032,"y":-0.45},{"x":0.0007,"y":-0.45},{"x":0.0045,"y":-0.45},{"x":0.0083,"y":-0.45},{"x":0.0122,"y":-0.45},{"x":0.016,"y":-0.45},{"x":0.0198,"y":-0.45},
{"x":-0.0115,"y":-0.6},{"x":-0.0077,"y":-0.6},{"x":-0.0038,"y":-0.6},{"x":0,"y":-0.6},{"x":0.0038,"y":-0.6},{"x":0.0077,"y":-0.6},{"x":0.0115,"y":-0.6},{"x":0.0137,"y":-0.6},
{"x":-0.0068,"y":-0.75},{"x":-0.003,"y":-0.75},{"x":0.0008,"y":-0.75},{"x":0.0046,"y":-0.75},{"x":0.0073,"y":-0.75}],
"p6":[
{"x":0.0024,"y":3.07},{"x":-0.0155,"y":2.65},{"x":-0.0101,"y":1.88},{"x":0.015,"y":1.43},{"x":0.0373,"y":1.5},{"x":0.0494,"y":1.36},{"x":-0.0398,"y":1.43},{"x":-0.0317,"y":1.33},{"x":-0.0443,"y":1.15},{"x":-0.0453,"y":1.04},{"x":-0.0245,"y":1.22},{"x":-0.0269,"y":0.97},{"x":-0.0226,"y":0.81},{"x":-0.0213,"y":0.85},{"x":-0.0184,"y":0.94},{"x":-0.0082,"y":0.94},{"x":-0.0381,"y":0.83},{"x":-0.0317,"y":0.71},{"x":-0.04,"y":0.6},{"x":-0.0365,"y":0.53},{"x":-0.0306,"y":0.52},{"x":-0.0157,"y":0.64},{"x":0.023,"y":1.01},{"x":0.027,"y":0.9},{"x":0.028,"y":0.74},{"x":0.0339,"y":1.15},{"x":0.0475,"y":1.15},{"x":0.0331,"y":0.44},{"x":0.0419,"y":0.62},{"x":0.0486,"y":0.62},{"x":0.0502,"y":0.25},{"x":0.0486,"y":0.06},{"x":0.068,"y":-0.39},{"x":-0.0813,"y":-0.08},{"x":-0.076,"y":-1.31},{"x":-0.0533,"y":-1.38},{"x":-0.0221,"y":-1.45},{"x":-0.045,"y":0.14},{"x":-0.0357,"y":0.11},{"x":-0.0325,"y":0.05},{"x":-0.0381,"y":-0.19},{"x":-0.0325,"y":-0.25},{"x":-0.0344,"y":-0.56},{"x":-0.0272,"y":-0.67},{"x":-0.0229,"y":-0.78},{"x":-0.0157,"y":-0.88},{"x":0.0152,"y":-1.2},{"x":0.0235,"y":-1.09},{"x":0.0243,"y":-1.2},{"x":0.0288,"y":-1.38},{"x":0.0211,"y":-1.59},{"x":0.0059,"y":-1.62},{"x":0.0091,"y":-1.66},{"x":0.0088,"y":-1.8},{"x":0.0134,"y":-1.75},{"x":0.0296,"y":-1.96},{"x":0.0466,"y":-1.82},{"x":-0.0005,"y":-1.27},{"x":-0.0074,"y":-1.09},{"x":-0.0045,"y":-1.02},{"x":0.0139,"y":-0.85},{"x":0.0219,"y":-0.78},{"x":0.0227,"y":-0.83},{"x":0.0179,"y":-0.49},{"x":0.0331,"y":-0.21},{"x":0.036,"y":-0.21},{"x":0.0331,"y":-0.04},{"x":0.0283,"y":-0.07},
{"x":-0.01,"y":0.85},{"x":0.0,"y":0.88},{"x":0.008,"y":0.85},{"x":0.015,"y":0.78},{"x":-0.012,"y":0.75},{"x":0.021,"y":0.68},{"x":-0.019,"y":0.6},{"x":-0.027,"y":0.4},{"x":0.03,"y":0.35},{"x":-0.029,"y":0.2},{"x":-0.028,"y":-0.05},{"x":0.03,"y":0.05},{"x":-0.026,"y":-0.3},{"x":0.028,"y":-0.3},{"x":-0.02,"y":-0.5},{"x":0.023,"y":-0.45},{"x":-0.015,"y":-0.68},{"x":0.017,"y":-0.65},{"x":-0.008,"y":-0.85},{"x":0.0,"y":-0.88},{"x":0.008,"y":-0.88},{"x":0.012,"y":-0.72},{"x":-0.0035,"y":-0.98},{"x":0.004,"y":-0.95}]
},
"vconcat":[
{"hconcat":[
{"width":329,"height":266,"layer":[
{"data":{"values":[{}]},"mark":{"type":"rule","color":"#9b9b9b","strokeWidth":1.5},"encoding":{"y":{"datum":0,"type":"quantitative","scale":{"domain":[-2.26,3.35],"nice":false,"zero":false},"axis":{"values":[-2,-1,0,1,2,3],"title":"Residual"}}}},
{"data":{"name":"p1c"},"mark":{"type":"point","shape":"circle","filled":true,"size":60,"color":"#003399","stroke":"#003399","strokeWidth":1.5,"opacity":1},"encoding":{"x":{"field":"x","type":"quantitative","scale":{"domain":[6.1,84.3],"nice":false,"zero":false},"axis":{"values":[20,40,60,80],"title":"v2"}},"y":{"field":"y","type":"quantitative","scale":{"domain":[-2.26,3.35],"nice":false,"zero":false},"axis":{"values":[-2,-1,0,1,2,3],"title":"Residual"}}}},
{"data":{"name":"p1"},"mark":{"type":"point","shape":"circle","filled":false,"size":40,"color":"#003399","opacity":1,"strokeWidth":1.6},"encoding":{"x":{"field":"x","type":"quantitative","scale":{"domain":[6.1,84.3],"nice":false,"zero":false},"axis":{"values":[20,40,60,80],"title":"v2"}},"y":{"field":"y","type":"quantitative","scale":{"domain":[-2.26,3.35],"nice":false,"zero":false},"axis":{"values":[-2,-1,0,1,2,3],"title":"Residual"}}}},
{"data":{"name":"l1"},"mark":{"type":"line","color":"#6f819e","strokeWidth":3.5,"opacity":0.9},"encoding":{"x":{"field":"x","type":"quantitative","scale":{"domain":[6.1,84.3],"nice":false,"zero":false},"axis":{"values":[20,40,60,80],"title":"v2"}},"y":{"field":"y","type":"quantitative","scale":{"domain":[-2.26,3.35],"nice":false,"zero":false},"axis":{"values":[-2,-1,0,1,2,3],"title":"Residual"}}}}
]},
{"width":337,"height":266,"layer":[
{"data":{"values":[{}]},"mark":{"type":"rule","color":"#9b9b9b","strokeWidth":1.5},"encoding":{"y":{"datum":0,"type":"quantitative","scale":{"domain":[-2.26,3.35],"nice":false,"zero":false},"axis":null}}},
{"data":{"name":"p2c"},"mark":{"type":"point","shape":"circle","filled":true,"size":60,"color":"#003399","stroke":"#003399","strokeWidth":1.5,"opacity":1},"encoding":{"x":{"field":"x","type":"quantitative","scale":{"domain":[6.3,93.9],"nice":false,"zero":false},"axis":{"values":[20,40,60,80],"title":"v3"}},"y":{"field":"y","type":"quantitative","scale":{"domain":[-2.26,3.35],"nice":false,"zero":false},"axis":null}}},
{"data":{"name":"p2"},"mark":{"type":"point","shape":"circle","filled":false,"size":40,"color":"#003399","opacity":1,"strokeWidth":1.6},"encoding":{"x":{"field":"x","type":"quantitative","scale":{"domain":[6.3,93.9],"nice":false,"zero":false},"axis":{"values":[20,40,60,80],"title":"v3"}},"y":{"field":"y","type":"quantitative","scale":{"domain":[-2.26,3.35],"nice":false,"zero":false},"axis":null}}},
{"data":{"name":"l2"},"mark":{"type":"line","color":"#6f819e","strokeWidth":3.5,"opacity":0.9},"encoding":{"x":{"field":"x","type":"quantitative","scale":{"domain":[6.3,93.9],"nice":false,"zero":false},"axis":{"values":[20,40,60,80],"title":"v3"}},"y":{"field":"y","type":"quantitative","scale":{"domain":[-2.26,3.35],"nice":false,"zero":false},"axis":null}}}
]},
{"width":342,"height":266,"layer":[
{"data":{"values":[{}]},"mark":{"type":"rule","color":"#9b9b9b","strokeWidth":1.5},"encoding":{"y":{"datum":0,"type":"quantitative","scale":{"domain":[-2.26,3.35],"nice":false,"zero":false},"axis":null}}},
{"data":{"name":"p3c"},"mark":{"type":"point","shape":"circle","filled":true,"size":60,"color":"#003399","stroke":"#003399","strokeWidth":1.5,"opacity":1},"encoding":{"x":{"field":"x","type":"quantitative","scale":{"domain":[6.25,75.7],"nice":false,"zero":false},"axis":{"values":[20,40,60],"title":"v4"}},"y":{"field":"y","type":"quantitative","scale":{"domain":[-2.26,3.35],"nice":false,"zero":false},"axis":null}}},
{"data":{"name":"p3"},"mark":{"type":"point","shape":"circle","filled":false,"size":40,"color":"#003399","opacity":1,"strokeWidth":1.6},"encoding":{"x":{"field":"x","type":"quantitative","scale":{"domain":[6.25,75.7],"nice":false,"zero":false},"axis":{"values":[20,40,60],"title":"v4"}},"y":{"field":"y","type":"quantitative","scale":{"domain":[-2.26,3.35],"nice":false,"zero":false},"axis":null}}},
{"data":{"name":"l3"},"mark":{"type":"line","color":"#6f819e","strokeWidth":3.5,"opacity":0.9},"encoding":{"x":{"field":"x","type":"quantitative","scale":{"domain":[6.25,75.7],"nice":false,"zero":false},"axis":{"values":[20,40,60],"title":"v4"}},"y":{"field":"y","type":"quantitative","scale":{"domain":[-2.26,3.35],"nice":false,"zero":false},"axis":null}}}
]}
],"spacing":26,"bounds":"flush"},
{"hconcat":[
{"width":329,"height":266,"layer":[
{"data":{"values":[{}]},"mark":{"type":"rule","color":"#9b9b9b","strokeWidth":1.5},"encoding":{"y":{"datum":0,"type":"quantitative","scale":{"domain":[-2.26,3.35],"nice":false,"zero":false},"axis":{"values":[-2,-1,0,1,2,3],"title":"Residual"}}}},
{"data":{"name":"p4c"},"mark":{"type":"point","shape":"circle","filled":true,"size":60,"color":"#003399","stroke":"#003399","strokeWidth":1.5,"opacity":1},"encoding":{"x":{"field":"x","type":"quantitative","scale":{"domain":[-0.082,0.0717],"nice":false,"zero":false},"axis":{"values":[-0.075,-0.025,0.025],"format":".3f","title":"dif_daily_v27"}},"y":{"field":"y","type":"quantitative","scale":{"domain":[-2.26,3.35],"nice":false,"zero":false},"axis":{"values":[-2,-1,0,1,2,3],"title":"Residual"}}}},
{"data":{"name":"p4"},"mark":{"type":"point","shape":"circle","filled":false,"size":40,"color":"#003399","opacity":1,"strokeWidth":1.6},"encoding":{"x":{"field":"x","type":"quantitative","scale":{"domain":[-0.082,0.0717],"nice":false,"zero":false},"axis":{"values":[-0.075,-0.025,0.025],"format":".3f","title":"dif_daily_v27"}},"y":{"field":"y","type":"quantitative","scale":{"domain":[-2.26,3.35],"nice":false,"zero":false},"axis":{"values":[-2,-1,0,1,2,3],"title":"Residual"}}}},
{"data":{"name":"l4"},"mark":{"type":"line","color":"#6f819e","strokeWidth":3.5,"opacity":0.9},"encoding":{"x":{"field":"x","type":"quantitative","scale":{"domain":[-0.082,0.0717],"nice":false,"zero":false},"axis":{"values":[-0.075,-0.025,0.025],"format":".3f","title":"dif_daily_v27"}},"y":{"field":"y","type":"quantitative","scale":{"domain":[-2.26,3.35],"nice":false,"zero":false},"axis":{"values":[-2,-1,0,1,2,3],"title":"Residual"}}}}
]},
{"width":337,"height":266,"layer":[
{"data":{"values":[{}]},"mark":{"type":"rule","color":"#9b9b9b","strokeWidth":1.5},"encoding":{"y":{"datum":0,"type":"quantitative","scale":{"domain":[-2.26,3.35],"nice":false,"zero":false},"axis":null}}},
{"data":{"name":"p5c"},"mark":{"type":"point","shape":"circle","filled":true,"size":60,"color":"#003399","stroke":"#003399","strokeWidth":1.5,"opacity":1},"encoding":{"x":{"field":"x","type":"quantitative","scale":{"domain":[-0.1266,0.1107],"nice":false,"zero":false},"axis":{"values":[-0.1,-0.05,0,0.05,0.1],"format":".2f","title":"dif_daily_v39"}},"y":{"field":"y","type":"quantitative","scale":{"domain":[-2.26,3.35],"nice":false,"zero":false},"axis":null}}},
{"data":{"name":"p5"},"mark":{"type":"point","shape":"circle","filled":false,"size":40,"color":"#003399","opacity":1,"strokeWidth":1.6},"encoding":{"x":{"field":"x","type":"quantitative","scale":{"domain":[-0.1266,0.1107],"nice":false,"zero":false},"axis":{"values":[-0.1,-0.05,0,0.05,0.1],"format":".2f","title":"dif_daily_v39"}},"y":{"field":"y","type":"quantitative","scale":{"domain":[-2.26,3.35],"nice":false,"zero":false},"axis":null}}},
{"data":{"name":"l5"},"mark":{"type":"line","color":"#6f819e","strokeWidth":3.5,"opacity":0.9},"encoding":{"x":{"field":"x","type":"quantitative","scale":{"domain":[-0.1266,0.1107],"nice":false,"zero":false},"axis":{"values":[-0.1,-0.05,0,0.05,0.1],"format":".2f","title":"dif_daily_v39"}},"y":{"field":"y","type":"quantitative","scale":{"domain":[-2.26,3.35],"nice":false,"zero":false},"axis":null}}}
]},
{"width":342,"height":266,"layer":[
{"data":{"values":[{}]},"mark":{"type":"rule","color":"#9b9b9b","strokeWidth":1.5},"encoding":{"y":{"datum":0,"type":"quantitative","scale":{"domain":[-2.26,3.35],"nice":false,"zero":false},"axis":null}}},
{"data":{"name":"p6c"},"mark":{"type":"point","shape":"circle","filled":true,"size":60,"color":"#003399","stroke":"#003399","strokeWidth":1.5,"opacity":1},"encoding":{"x":{"field":"x","type":"quantitative","scale":{"domain":[-0.088,0.076],"nice":false,"zero":false},"axis":{"values":[-0.05,0,0.05],"format":".2f","title":"dif_daily_v42"}},"y":{"field":"y","type":"quantitative","scale":{"domain":[-2.26,3.35],"nice":false,"zero":false},"axis":null}}},
{"data":{"name":"p6"},"mark":{"type":"point","shape":"circle","filled":false,"size":40,"color":"#003399","opacity":1,"strokeWidth":1.6},"encoding":{"x":{"field":"x","type":"quantitative","scale":{"domain":[-0.088,0.076],"nice":false,"zero":false},"axis":{"values":[-0.05,0,0.05],"format":".2f","title":"dif_daily_v42"}},"y":{"field":"y","type":"quantitative","scale":{"domain":[-2.26,3.35],"nice":false,"zero":false},"axis":null}}},
{"data":{"name":"l6"},"mark":{"type":"line","color":"#6f819e","strokeWidth":3.5,"opacity":0.9},"encoding":{"x":{"field":"x","type":"quantitative","scale":{"domain":[-0.088,0.076],"nice":false,"zero":false},"axis":{"values":[-0.05,0,0.05],"format":".2f","title":"dif_daily_v42"}},"y":{"field":"y","type":"quantitative","scale":{"domain":[-2.26,3.35],"nice":false,"zero":false},"axis":null}}}
]}
],"spacing":26,"bounds":"flush"}
],
"spacing":24
}
